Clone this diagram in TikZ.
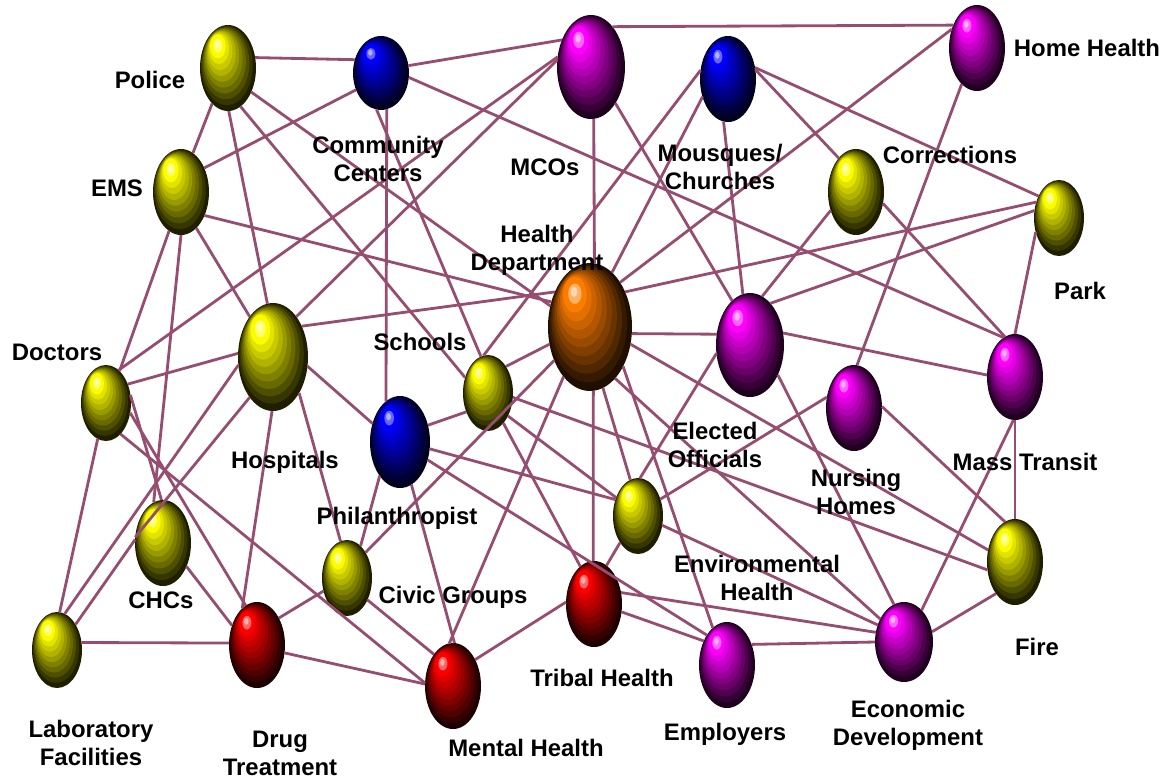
\documentclass[tikz,border=0pt]{standalone}
\usepackage{fontspec}
\setmainfont{Liberation Sans}
\usetikzlibrary{shapes.geometric}
\definecolor{linkcol}{RGB}{150,78,112}
\definecolor{hdorange}{RGB}{255,125,0}
\definecolor{orbyellow}{RGB}{255,255,0}
\definecolor{orbblue}{RGB}{0,0,255}
\definecolor{orbmagenta}{RGB}{255,0,255}
\definecolor{orbred}{RGB}{255,0,0}
\definecolor{orbdark}{RGB}{0,0,0}
\definecolor{orblight}{RGB}{255,255,255}
\newcommand{\orb}[6]{%
  \node[orbnode, minimum width={#4*0.04cm}, minimum height={#5*0.04cm}] (#1) at (#2,#3) {};
  \foreach \k in {0,...,9}{%
    \pgfmathsetmacro{\s}{1-0.08*\k}%
    \pgfmathtruncatemacro{\m}{12+9.7*\k}%
    \fill[#6!\m!orbdark] ({#2-(1-\s)*0.5*#4},{#3-(1-\s)*0.7*#5}) ellipse [x radius={\s*#4}, y radius={\s*#5}];
  }
  \fill[#6!60!orblight] ({#2-0.36*#4},{#3-0.52*#5}) ellipse [x radius={0.16*#4}, y radius={0.16*#5}];
  \fill[#6!30!orblight] ({#2-0.38*#4},{#3-0.55*#5}) ellipse [x radius={0.08*#4}, y radius={0.08*#5}];
}
\tikzset{
  orbnode/.style={ellipse, inner sep=0pt, outer sep=0pt},
  link/.style={draw=linkcol, line width=1.6pt},
  lbl/.style={font=\fontsize{13.6}{16}\selectfont\bfseries, align=center, inner sep=0pt}
}
\begin{document}
\begin{tikzpicture}[x=0.02cm, y=-0.02cm]
  \useasboundingbox (0,0) rectangle (1167,778);
  \fill[white] (0,0) rectangle (1167,778);

  \orb{police}{228}{68}{28}{43}{orbyellow}
  \orb{cc}{381}{73}{28}{37}{orbblue}
  \orb{mco}{591}{67}{34}{52}{orbmagenta}
  \orb{mosque}{728}{79}{28}{43}{orbblue}
  \orb{homeh}{977}{48}{28}{43}{orbmagenta}
  \orb{ems}{181}{192}{28}{43}{orbyellow}
  \orb{corr}{856}{192}{28}{43}{orbyellow}
  \orb{park}{1059}{218}{25}{38}{orbyellow}
  \orb{hd}{590}{327}{42}{64}{hdorange}
  \orb{doc}{106}{403}{25}{38}{orbyellow}
  \orb{hosp}{273}{357}{35}{54}{orbyellow}
  \orb{school}{488}{393}{25}{38}{orbyellow}
  \orb{phil}{400}{442}{30}{46}{orbblue}
  \orb{elect}{750}{345}{34}{52}{orbmagenta}
  \orb{nurse}{854}{408}{28}{43}{orbmagenta}
  \orb{transit}{1015}{377}{28}{43}{orbmagenta}
  \orb{envh}{638}{516}{25}{38}{orbyellow}
  \orb{chc}{163}{543}{28}{43}{orbyellow}
  \orb{civic}{347}{578}{25}{38}{orbyellow}
  \orb{tribal}{594}{604}{28}{43}{orbred}
  \orb{fire}{1015}{562}{28}{43}{orbyellow}
  \orb{lab}{57}{650}{25}{38}{orbyellow}
  \orb{drug}{257}{645}{28}{43}{orbred}
  \orb{mental}{453}{686}{28}{43}{orbred}
  \orb{employ}{727}{665}{28}{43}{orbmagenta}
  \orb{econ}{904}{642}{29}{40}{orbmagenta}

  \draw[link] (police.21) -- (cc.153);
  \draw[link] (police.-114) -- (ems.73);
  \draw[link] (police.-89) -- (hosp.96);
  \draw[link] (police.-72) -- (school.146);
  \draw[link] (police.-46) -- (hd.152);
  \draw[link] (cc.-146) -- (ems.46);
  \draw[link] (cc.15) -- (mco.137);
  \draw[link] (cc.-9) -- (transit.106);
  \draw[link] (cc.-81) -- (phil.109);
  \draw[link] (cc.-97) -- (school.101);
  \draw[link] (mco.62) -- (homeh.136);
  \draw[link] (mco.163) -- (doc.69);
  \draw[link] (mco.168) -- (hosp.60);
  \draw[link] (mco.-87) -- (hd.86);
  \draw[link] (mco.-56) -- (elect.112);
  \draw[link] (mosque.162) -- (school.97);
  \draw[link] (mosque.-145) -- (hd.68);
  \draw[link] (mosque.-96) -- (elect.98);
  \draw[link] (mosque.19) -- (corr.117);
  \draw[link] (mosque.23) -- (park.133);
  \draw[link] (homeh.143) -- (hd.56);
  \draw[link] (homeh.-113) -- (nurse.86);
  \draw[link] (corr.-144) -- (elect.76);
  \draw[link] (corr.-23) -- (transit.104);
  \draw[link] (park.145) -- (hd.45);
  \draw[link] (park.163) -- (elect.64);
  \draw[link] (park.-149) -- (transit.90);
  \draw[link] (hd.-9) -- (elect.162);
  \draw[link] (hd.-23) -- (fire.156);
  \draw[link] (hd.-64) -- (econ.136);
  \draw[link] (hd.-50) -- (employ.111);
  \draw[link] (hd.-78) -- (envh.102);
  \draw[link] (hd.-87) -- (tribal.91);
  \draw[link] (hd.-118) -- (mental.95);
  \draw[link] (hd.-137) -- (civic.54);
  \draw[link] (hd.-157) -- (school.56);
  \draw[link] (hd.135) -- (hosp.47);
  \draw[link] (hd.147) -- (ems.-45);
  \draw[link] (ems.-107) -- (doc.67);
  \draw[link] (ems.-90) -- (chc.103);
  \draw[link] (ems.-67) -- (hosp.120);
  \draw[link] (doc.41) -- (hosp.174);
  \draw[link] (doc.18) -- (chc.92);
  \draw[link] (doc.-22) -- (drug.106);
  \draw[link] (doc.-65) -- (mental.174);
  \draw[link] (doc.-103) -- (lab.86);
  \draw[link] (hosp.-167) -- (lab.78);
  \draw[link] (hosp.-120) -- (chc.168);
  \draw[link] (chc.173) -- (lab.54);
  \draw[link] (hosp.-91) -- (drug.112);
  \draw[link] (hosp.-54) -- (civic.100);
  \draw[link] (hosp.-15) -- (phil.146);
  \draw[link] (lab.17) -- (drug.176);
  \draw[link] (chc.-45) -- (drug.142);
  \draw[link] (drug.51) -- (civic.-151);
  \draw[link] (drug.-16) -- (mental.176);
  \draw[link] (civic.-47) -- (mental.121);
  \draw[link] (phil.-121) -- (civic.67);
  \draw[link] (phil.31) -- (school.-139);
  \draw[link] (phil.-13) -- (envh.144);
  \draw[link] (phil.-33) -- (employ.124);
  \draw[link] (phil.-75) -- (mental.88);
  \draw[link] (school.-49) -- (envh.140);
  \draw[link] (school.-63) -- (tribal.110);
  \draw[link] (school.-10) -- (fire.-164);
  \draw[link] (elect.-166) -- (envh.87);
  \draw[link] (elect.20) -- (transit.176);
  \draw[link] (elect.-47) -- (econ.105);
  \draw[link] (nurse.158) -- (envh.37);
  \draw[link] (nurse.3) -- (fire.104);
  \draw[link] (transit.-90) -- (fire.90);
  \draw[link] (transit.-92) -- (econ.61);
  \draw[link] (fire.-121) -- (econ.20);
  \draw[link] (envh.-124) -- (tribal.72);
  \draw[link] (envh.-21) -- (econ.147);
  \draw[link] (tribal.176) -- (mental.50);
  \draw[link] (tribal.-16) -- (employ.134);
  \draw[link] (tribal.23) -- (econ.161);
  \draw[link] (employ.40) -- (econ.180);

  \node[lbl] (policelbl) at (150,80) {Police};
  \node[lbl] (cclbl) at (378,159) {Community\\Centers};
  \node[lbl] (mcolbl) at (545,167) {MCOs};
  \node[lbl] (mosquelbl) at (720,167) {Mousques/\\Churches};
  \node[lbl] (homehlbl) at (1087,48) {Home Health};
  \node[lbl] (emslbl) at (117,188) {EMS};
  \node[lbl] (corrlbl) at (950,155) {Corrections};
  \node[lbl] (parklbl) at (1080,291) {Park};
  \node[lbl] (hdlbl) at (537,250) {Health\\Department};
  \node[lbl] (doclbl) at (57,352) {Doctors};
  \node[lbl] (schoollbl) at (420,342) {Schools};
  \node[lbl] (hosplbl) at (285,462) {Hospitals};
  \node[lbl] (electlbl) at (715,445) {Elected\\Officials};
  \node[lbl] (nurselbl) at (856,492) {Nursing\\Homes};
  \node[lbl] (transitlbl) at (1025,462) {Mass Transit};
  \node[lbl] (phillbl) at (397,518) {Philanthropist};
  \node[lbl] (envhlbl) at (757,578) {Environmental\\Health};
  \node[lbl] (chclbl) at (161,600) {CHCs};
  \node[lbl] (civiclbl) at (453,597) {Civic Groups};
  \node[lbl] (firelbl) at (1037,647) {Fire};
  \node[lbl] (triballbl) at (602,678) {Tribal Health};
  \node[lbl] (lablbl) at (91,743) {Laboratory\\Facilities};
  \node[lbl] (druglbl) at (280,753) {Drug\\Treatment};
  \node[lbl] (mentallbl) at (526,748) {Mental Health};
  \node[lbl] (employlbl) at (725,734) {Employers};
  \node[lbl] (econlbl) at (908,725) {Economic\\Development};
\end{tikzpicture}
\end{document}
